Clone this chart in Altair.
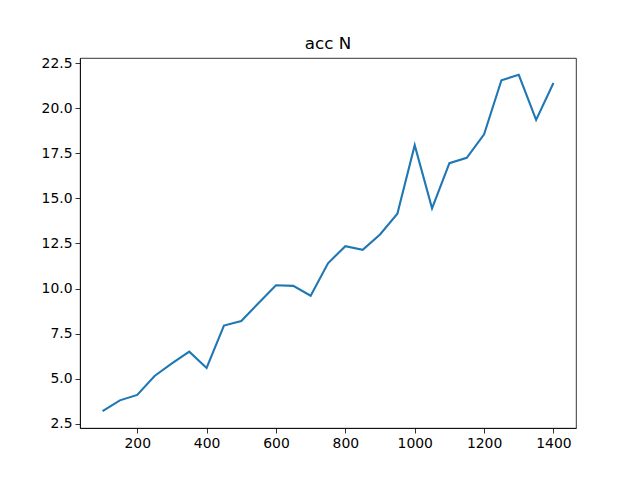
import altair as alt
import pandas as pd

n_values = [100, 150, 200, 250, 300, 350, 400, 450, 500, 550, 600, 650, 700,
            750, 800, 850, 900, 950, 1000, 1050, 1100, 1150, 1200, 1250, 1300,
            1350, 1400]
acc_values = [3.2, 3.8, 4.1, 5.15, 5.85, 6.5, 5.6, 7.95, 8.2, 9.2, 10.18, 10.15,
              9.6, 11.4, 12.35, 12.15, 13.0, 14.15, 17.95, 14.45, 16.95, 17.25,
              18.55, 21.55, 21.85, 19.35, 21.4]
x_ticks = [200, 400, 600, 800, 1000, 1200, 1400]
y_ticks = [2.5, 5.0, 7.5, 10.0, 12.5, 15.0, 17.5, 20.0, 22.5]

df = pd.DataFrame({"N": n_values, "acc": acc_values})

xr = max(n_values) - min(n_values)
yr = max(acc_values) - min(acc_values)
xdom = [min(n_values) - 0.05 * xr, max(n_values) + 0.05 * xr]
ydom = [min(acc_values) - 0.05 * yr, max(acc_values) + 0.05 * yr]

axis_common = dict(
    grid=False, domain=True, domainColor="black", domainWidth=0.8,
    tickColor="black", tickSize=5, tickWidth=0.8,
    labelColor="black", labelFont="DejaVu Sans", labelFontSize=13.9,
    labelPadding=3, title=None,
)

chart = alt.Chart(df).mark_line(color="#1f77b4", strokeWidth=2.1).encode(
    x=alt.X("N:Q", scale=alt.Scale(domain=xdom, nice=False, zero=False),
            axis=alt.Axis(values=x_ticks, format="d", **axis_common)),
    y=alt.Y("acc:Q", scale=alt.Scale(domain=ydom, nice=False, zero=False),
            axis=alt.Axis(values=y_ticks, format=".1f", **axis_common)),
).properties(
    width=496, height=370,
    title=alt.TitleParams("acc N", font="DejaVu Sans", fontSize=16.7,
                          fontWeight="normal", color="black", offset=3,
                          anchor="middle"),
    autosize=alt.AutoSizeParams(type="none"),
    padding={"left": 72, "top": 50, "right": 56, "bottom": 44},
).configure(
    background="white",
    view=alt.ViewConfig(stroke="black", strokeWidth=0.8),
)

chart.save("out.html", embed_options={"renderer": "svg", "actions": False})
